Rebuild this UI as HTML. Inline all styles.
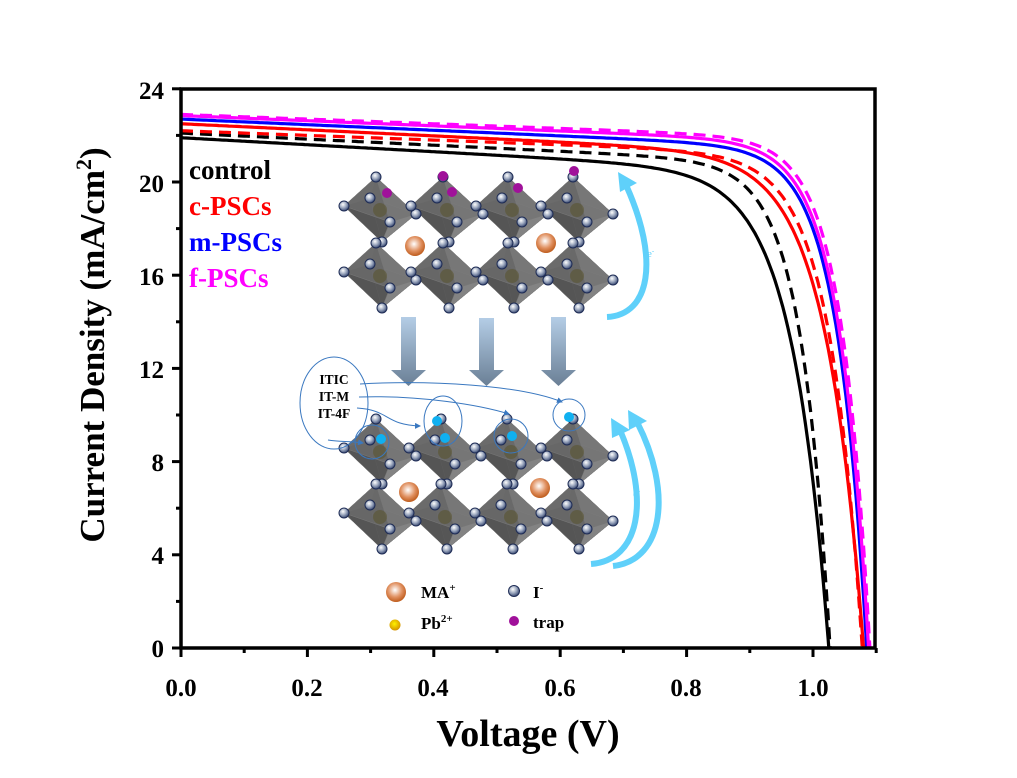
<!DOCTYPE html>
<html><head><meta charset="utf-8"><style>
html,body{margin:0;padding:0;background:#fff;}
svg{display:block;}
</style></head><body>
<svg id="s" width="1017" height="778" viewBox="0 0 1017 778" xmlns="http://www.w3.org/2000/svg" font-family="Liberation Serif, serif" font-weight="bold">
<defs>
<radialGradient id="gI" cx="0.4" cy="0.35" r="0.7"><stop offset="0" stop-color="#fff"/><stop offset="0.5" stop-color="#9aa6bd"/><stop offset="1" stop-color="#2a3a66"/></radialGradient>
<radialGradient id="gMA" cx="0.45" cy="0.4" r="0.65"><stop offset="0" stop-color="#fff"/><stop offset="0.55" stop-color="#e09060"/><stop offset="1" stop-color="#b8520f"/></radialGradient>
<radialGradient id="gPb" cx="0.45" cy="0.4" r="0.65"><stop offset="0" stop-color="#fff200"/><stop offset="1" stop-color="#d08a00"/></radialGradient>
<linearGradient id="gArr" x1="0" y1="0" x2="0" y2="1"><stop offset="0" stop-color="#b4cde6"/><stop offset="1" stop-color="#6a7f95"/></linearGradient>
<marker id="mk" markerWidth="6" markerHeight="6" refX="5" refY="3" orient="auto"><path d="M0,0 L6,3 L0,6 z" fill="#3a78c0"/></marker>
</defs>
<g id="cr"></g>
<g id="curves"></g>
<rect x="181" y="89" width="694" height="559" fill="none" stroke="#000" stroke-width="3.5"/>
<g id="ticks" stroke="#000" stroke-width="3"></g>
<g font-size="25" text-anchor="end">
<text x="164" y="657">0</text><text x="164" y="564">4</text><text x="164" y="471">8</text><text x="164" y="378">12</text><text x="164" y="285">16</text><text x="164" y="192">20</text><text x="164" y="99">24</text>
</g>
<g font-size="25" text-anchor="middle">
<text x="181" y="696">0.0</text><text x="307" y="696">0.2</text><text x="433" y="696">0.4</text><text x="560" y="696">0.6</text><text x="686" y="696">0.8</text><text x="813" y="696">1.0</text>
</g>
<text x="528" y="746" font-size="38" text-anchor="middle">Voltage (V)</text>
<text transform="translate(104,345) rotate(-90)" font-size="35" text-anchor="middle">Current Density (mA/cm<tspan dy="-13" font-size="22">2</tspan><tspan dy="13">)</tspan></text>
<g font-size="27">
<text x="189" y="179" fill="#000">control</text>
<text x="189" y="215" fill="#f00">c-PSCs</text>
<text x="189" y="251" fill="#00f">m-PSCs</text>
<text x="189" y="287" fill="#f0f">f-PSCs</text>
</g>
<g fill="url(#gArr)">
<path d="M401,317 h15 v53 h10 l-17.5,16 l-17.5,-16 h10 z"/>
<path d="M479,318 h15 v52 h10 l-17.5,16 l-17.5,-16 h10 z"/>
<path d="M551,317 h15 v53 h10 l-17.5,16 l-17.5,-16 h10 z"/>
</g>
<g fill="none" stroke="#5fd0fa" stroke-width="6">
<path d="M607,317 C650,315 660,260 626,185"/>
<path d="M591,564 C640,560 650,500 620,430"/>
<path d="M613,566 C665,560 672,490 637,422"/>
</g>
<g fill="#5fd0fa">
<path d="M618,172 L637,183 L620,192 z"/>
<path d="M611,418 L630,430 L612,438 z"/>
<path d="M628,410 L647,421 L629,430 z"/>
</g>
<text x="647" y="257" font-size="11" fill="#5fd0fa" font-weight="normal">e<tspan dy="-4" font-size="7">-</tspan></text>
<text x="633" y="497" font-size="11" fill="#5fd0fa" font-weight="normal">e<tspan dy="-4" font-size="7">-</tspan></text>
<g fill="none" stroke="#3a78c0" stroke-width="1">
<ellipse cx="334" cy="403" rx="34" ry="46"/>
<circle cx="372" cy="442" r="17"/>
<ellipse cx="443" cy="421" rx="19" ry="25"/>
<circle cx="511" cy="436" r="17"/>
<circle cx="569" cy="415" r="16"/>
<path d="M360,384 C430,380 520,385 562,402" marker-end="url(#mk)"/>
<path d="M359,397 C420,395 480,405 509,414" marker-end="url(#mk)"/>
<path d="M357,408 C390,410 385,425 420,426" marker-end="url(#mk)"/>
<path d="M328,440 C340,442 350,441 363,443" marker-end="url(#mk)"/>
</g>
<g font-size="13.5" text-anchor="middle">
<text x="334" y="384">ITIC</text><text x="334" y="401">IT-M</text><text x="334" y="418">IT-4F</text>
</g>
<circle cx="396" cy="592" r="10" fill="url(#gMA)"/>
<text x="421" y="598" font-size="17">MA<tspan dy="-7" font-size="11">+</tspan></text>
<circle cx="514" cy="591" r="5.5" fill="url(#gI)" stroke="#1e2c55" stroke-width="1"/>
<text x="533" y="598" font-size="17">I<tspan dy="-7" font-size="11">-</tspan></text>
<circle cx="395" cy="625" r="5.5" fill="url(#gPb)"/>
<text x="421" y="629" font-size="17">Pb<tspan dy="-7" font-size="11">2+</tspan></text>
<circle cx="514" cy="621" r="5" fill="#a0119a"/>
<text x="533" y="628" font-size="17">trap</text>
</svg>
<script>
var NS="http://www.w3.org/2000/svg";
function el(p,t,a){var e=document.createElementNS(NS,t);for(var k in a)e.setAttribute(k,a[k]);p.appendChild(e);return e;}
var X=function(v){return 181+v*632;}, Y=function(j){return 648-j*23.3;};
var tk=document.getElementById('ticks');
for(var j=0;j<=24;j+=2){var L=(j%4==0)?9:5;el(tk,'line',{x1:181-L,y1:Y(j),x2:181,y2:Y(j)});}
for(var v=0;v<=1.1;v+=0.1){var m=Math.round(v*10)%2==0;el(tk,'line',{x1:X(v),y1:648,x2:X(v),y2:648+(m?9:5)});}
var cv=document.getElementById('curves');
function curve(js,voc,n,s,col,dash){
 var pts=[];
 for(var v=0;v<=voc+0.0001;v+=0.004){var J=(js-s*v)*(1-Math.exp((v-voc)/n));if(J<0)J=0;pts.push(X(v).toFixed(1)+','+Y(J).toFixed(1));}
 pts.push(X(voc).toFixed(1)+','+Y(0));
 var a={points:pts.join(' '),fill:'none',stroke:col,'stroke-width':3.2};
 if(dash)a['stroke-dasharray']='12,7';
 el(cv,'polyline',a);
}
curve(21.9,1.025,0.058,1.5,'#000',false);
curve(22.1,1.027,0.046,1.3,'#000',true);
curve(22.5,1.08,0.06,1.3,'#f00',false);
curve(22.2,1.078,0.052,1.0,'#f00',true);
curve(22.7,1.085,0.047,1.2,'#00f',false);
curve(22.85,1.088,0.047,1.1,'#f0f',false);
curve(22.9,1.09,0.045,1.0,'#f0f',true);
var cr=document.getElementById('cr');
function oct(cx,cy){
 var T=[cx-4,cy-33],B=[cx+2,cy+32],Lf=[cx-36,cy-4],R=[cx+36,cy+4],F=[cx+10,cy+12],K=[cx-10,cy-12];
 var f=function(a,b,c,col){el(cr,'polygon',{points:[a,b,c].map(function(p){return p.join(',')}).join(' '),fill:col,'fill-opacity':0.85,stroke:'#777','stroke-width':0.5});};
 f(T,Lf,K,'#5a5a5a');f(T,K,R,'#4a4a4a');f(B,Lf,K,'#3a3a3a');f(B,K,R,'#404040');
 f(T,Lf,F,'#6a6a6a');f(T,F,R,'#7a7a7a');f(B,Lf,F,'#555');f(B,F,R,'#8a8a8a');
 el(cr,'circle',{cx:cx,cy:cy,r:7,fill:'#5a5530','fill-opacity':0.6});
 return [T,B,Lf,R,F,K];
}
function ball(x,y){el(cr,'circle',{cx:x,cy:y,r:5,fill:'url(#gI)',stroke:'#1e2c55','stroke-width':1});}
function crystal(cols,rows,mas){
 var vs=[];
 rows.forEach(function(cy){cols.forEach(function(cx){vs=vs.concat(oct(cx,cy));});});
 mas.forEach(function(m){el(cr,'circle',{cx:m[0],cy:m[1],r:10,fill:'url(#gMA)'});});
 vs.forEach(function(p){ball(p[0],p[1]);});
}
crystal([380,447,512,577],[210,276],[[415,246],[546,243]]);
crystal([380,445,511,577],[452,517],[[409,492],[540,488]]);
[[387,193],[443,176],[452,192],[518,188],[574,171]].forEach(function(p){el(cr,'circle',{cx:p[0],cy:p[1],r:5,fill:'#a0119a'});});
[[381,439],[437,421],[445,438],[512,436],[569,417]].forEach(function(p){el(cr,'circle',{cx:p[0],cy:p[1],r:5,fill:'#10b0f0'});});
</script>
</body></html>
